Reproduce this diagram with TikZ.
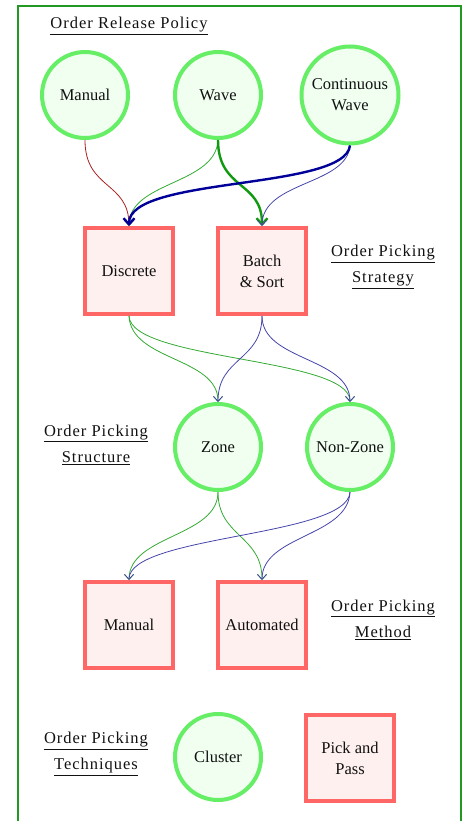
\documentclass[tikz,border=0pt]{standalone}
\usepackage{fontspec}
\setmainfont{Liberation Serif}
\usetikzlibrary{arrows.meta}
\definecolor{cstroke}{HTML}{66EE66}
\definecolor{cfill}{HTML}{F0FFF0}
\definecolor{rstroke}{HTML}{FF6666}
\definecolor{rfill}{HTML}{FFF0F0}
\definecolor{frame}{HTML}{229922}
\definecolor{txt}{HTML}{111111}
\definecolor{ered}{HTML}{AA2222}
\definecolor{egreen}{HTML}{33AA33}
\definecolor{edkgreen}{HTML}{119911}
\definecolor{eblue}{HTML}{4444AA}
\definecolor{edkblue}{HTML}{000099}
\tikzset{
  circ/.style={circle, draw=cstroke, fill=cfill, line width=4pt, minimum size=86pt, inner sep=0pt, align=center, text=txt, font=\fontsize{16.5}{21}\selectfont},
  sq/.style={rectangle, draw=rstroke, fill=rfill, line width=4pt, minimum width=88pt, minimum height=86pt, inner sep=0pt, align=center, text=txt, font=\fontsize{16.5}{21}\selectfont},
  lab/.style={align=center, text=txt, font=\fontsize{16.5}{26}\selectfont\addfontfeatures{LetterSpace=6}},
  edge/.style={-{Straight Barb[length=5pt,width=9pt]}, line width=0.8pt},
  thick edge/.style={-{Straight Barb[length=6pt,width=11pt]}, line width=2.4pt},
}
\begin{document}
\begin{tikzpicture}[x=1pt,y=-1pt]
\useasboundingbox (0,0) rectangle (466,821);
\draw[frame, line width=2pt] (18,830) -- (18,6) -- (461,6) -- (461,830);

\node[lab] (lrel) at (129,26) {\underline{Order Release Policy}};
\node[lab] (lstrat) at (383,267) {\underline{Order Picking}\\\underline{Strategy}};
\node[lab] (lstruct) at (96,445) {\underline{Order Picking}\\\underline{Structure}};
\node[lab] (lmeth) at (383,620) {\underline{Order Picking}\\\underline{Method}};
\node[lab] (ltech) at (96,754) {\underline{Order Picking}\\\underline{Techniques}};

\node[circ] (man) at (85,95) {Manual};
\node[circ] (wave) at (218,95) {Wave};
\node[circ, minimum size=97pt] (cont) at (350,95) {Continuous\\Wave};

\node[sq] (disc) at (129,271) {Discrete};
\node[sq] (batch) at (262,271) {Batch\\\& Sort};

\node[circ] (zone) at (218,447) {Zone};
\node[circ] (nonz) at (350,447) {Non-Zone};

\node[sq] (mman) at (129,625) {Manual};
\node[sq] (auto) at (262,625) {Automated};

\node[circ] (clus) at (218,757) {Cluster};
\node[sq] (pnp) at (350,758) {Pick and\\Pass};

% level 1
\draw[edge, ered] (man.south) .. controls +(0,50) and +(0,-45) .. (disc.north);
\draw[edge, egreen] (wave.south) .. controls +(-2,45) and +(0,-45) .. (disc.north);
\draw[thick edge, edkgreen] (wave.south) .. controls +(0,50) and +(0,-45) .. (batch.north);
\draw[edge, eblue] (cont.south) .. controls +(-3,40) and +(0,-45) .. (batch.north);
\draw[thick edge, edkblue] (cont.south) .. controls +(-5,45) and +(0,-50) .. (disc.north);

% level 2
\draw[edge, egreen] (disc.south) .. controls +(2,45) and +(0,-45) .. (zone.north);
\draw[edge, egreen] (disc.south) .. controls +(2,45) and +(0,-45) .. (nonz.north);
\draw[edge, eblue] (batch.south) .. controls +(0,45) and +(0,-45) .. (zone.north);
\draw[edge, eblue] (batch.south) .. controls +(0,45) and +(0,-45) .. (nonz.north);

% level 3
\draw[edge, egreen] (zone.south) .. controls +(0,45) and +(0,-45) .. (mman.north);
\draw[edge, egreen] (zone.south) .. controls +(0,45) and +(0,-45) .. (auto.north);
\draw[edge, eblue] (nonz.south) .. controls +(-2,45) and +(0,-45) .. (mman.north);
\draw[edge, eblue] (nonz.south) .. controls +(-2,45) and +(0,-45) .. (auto.north);
\end{tikzpicture}
\end{document}
